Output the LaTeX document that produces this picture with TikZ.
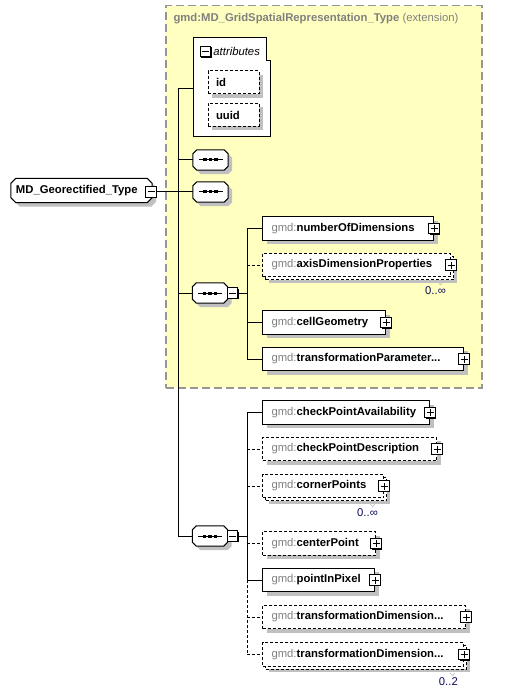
\documentclass[tikz,border=0pt]{standalone}
\usepackage{fontspec}
\setmainfont{Liberation Sans}
\usetikzlibrary{shadows, positioning}
\definecolor{extyellow}{RGB}{255,255,192}
\definecolor{extborder}{RGB}{150,150,150}
\definecolor{shgray}{RGB}{192,192,192}
\definecolor{pregray}{RGB}{128,128,128}
\definecolor{occblue}{RGB}{10,10,90}
\newcommand{\gmdpre}{{\mdseries\color{pregray}gmd:}}
% Umriss mit abgeschraegten Ecken um einen Knoten
\newcommand{\octpath}[2]{([xshift=#2]#1.north west) -- ([xshift=-#2]#1.north east) -- ([yshift=-#2]#1.north east) -- ([yshift=#2]#1.south east) -- ([xshift=-#2]#1.south east) -- ([xshift=#2]#1.south west) -- ([yshift=#2]#1.south west) -- ([yshift=-#2]#1.north west) -- cycle}
\pgfdeclarelayer{background}
\pgfsetlayers{background,main}

\begin{document}
\begin{tikzpicture}[x=1pt, y=-1pt,
    font=\fontsize{11.3}{13.5}\selectfont\bfseries,
    shadowed/.style={drop shadow={shadow xshift=4pt, shadow yshift=-4pt, fill=shgray, opacity=1}},
    conn/.style={draw, line width=1pt},
    optconn/.style={conn, dash pattern=on 3pt off 2pt},
    extbox/.style={rectangle, draw=extborder, fill=extyellow, line width=1.5pt, dash pattern=on 8pt off 4pt, minimum width=316pt, minimum height=382pt},
    attrbox/.style={rectangle, draw, fill=white, line width=1pt, minimum width=77pt, minimum height=99pt},
    attrelem/.style={rectangle, draw, fill=white, line width=1pt, dash pattern=on 3pt off 2pt, minimum height=23pt, text width=35pt, inner xsep=8pt, align=left, shadowed},
    elem/.style={rectangle, draw, fill=white, line width=1pt, anchor=west, minimum height=23.5pt, inner xsep=9pt, inner ysep=2pt, align=left, shadowed},
    optelem/.style={elem, dash pattern=on 3pt off 2pt},
    multielem/.style={rectangle, draw, fill=white, line width=1pt, anchor=west, minimum height=23.5pt, inner xsep=9pt, inner ysep=2pt, align=left, dash pattern=on 3pt off 2pt,
        drop shadow={shadow xshift=6pt, shadow yshift=-6pt, fill=shgray, opacity=1},
        general shadow={shadow xshift=3pt, shadow yshift=-3pt, draw=black, fill=white, line width=1pt, dash pattern=on 3pt off 2pt}},
    occ/.style={font=\fontsize{11.3}{13.5}\selectfont\mdseries, text=occblue, inner sep=0pt, anchor=east},
    occmark/.style={draw=white!55!gray, line width=0.7pt},
    pmbox/.style={rectangle, draw, fill=white, line width=1pt, minimum size=10.5pt, inner sep=0pt, drop shadow={shadow xshift=1pt, shadow yshift=-1pt, fill=black, opacity=1}},
    plusbox/.style={pmbox, path picture={
        \draw[line width=1pt] ([xshift=-3.5pt]path picture bounding box.center) -- ([xshift=3.5pt]path picture bounding box.center)
            ([yshift=-3.5pt]path picture bounding box.center) -- ([yshift=3.5pt]path picture bounding box.center);}},
    minusbox/.style={pmbox, path picture={
        \draw[line width=1pt] ([xshift=-3.5pt]path picture bounding box.center) -- ([xshift=3.5pt]path picture bounding box.center);}},
    seqbox/.style={rectangle, minimum width=35pt, minimum height=20pt, inner sep=0pt},
    mainbox/.style={rectangle, minimum width=141pt, minimum height=24pt, inner xsep=5pt, inner ysep=2pt, text width=131pt, align=left},
    octshadow/.style={fill=shgray, transform canvas={shift={(4pt,-4pt)}}},
    octline/.style={draw, fill=white, line width=1pt}
    ]
    \useasboundingbox (0,0) rectangle (506,692);

    % --- EXTENSION (GELB) ---
    \begin{pgfonlayer}{background}
    \node[extbox] (ext) at (323.75,196.75) {};
    \end{pgfonlayer}
    \node[anchor=west, text=pregray] (title) at (170,19) {gmd:MD\_GridSpatialRepresentation\_Type \mdseries(extension)};

    % --- ATTRIBUTE ---
    \node[attrbox] (attr) at (231.5,87.5) {};
    \fill[extyellow] ([shift={(-4pt,0.6pt)}]attr.north east) rectangle ([shift={(0.6pt,-23pt)}]attr.north east);
    \draw[line width=1pt] ([xshift=-4pt]attr.north east) -- ([shift={(-4pt,-23pt)}]attr.north east) -- ([yshift=-23pt]attr.north east);
    \node[minusbox] (attrM) at (205.5,51.5) {};
    \node[right=1pt of attrM, inner sep=1pt, font=\fontsize{11.3}{13.5}\selectfont\mdseries\itshape] (attrLabel) {attributes};
    \node[attrelem] (idAttr) at (233.5,82.5) {id};
    \node[attrelem] (uuidAttr) at (233.5,115) {uuid};

    % --- HAUPTTYP ---
    \node[mainbox] (main) at (81.5,190.5) {MD\_Georectified\_Type};

    % --- SEQUENZEN ---
    \node[seqbox] (seqA) at (210.5,160) {};
    \node[seqbox] (seqB) at (210.5,192) {};
    \node[seqbox] (seqC) at (210,293) {};
    \node[seqbox] (seqD) at (210,536) {};

    \begin{pgfonlayer}{background}
    \fill[octshadow] \octpath{main}{5pt};
    \path[octline] \octpath{main}{5pt};
    \foreach \s in {seqA,seqB,seqC,seqD} {
        \fill[octshadow] \octpath{\s}{4pt};
        \path[octline] \octpath{\s}{4pt};
    }
    \end{pgfonlayer}
    \foreach \s in {seqA,seqB,seqC,seqD} {
        \draw[line width=1pt] ([xshift=-12pt]\s.center) -- ([xshift=12pt]\s.center);
        \foreach \dx in {-5.5,0,5.5}
            \fill ([xshift=\dx pt]\s.center) +(-1.6,-1.5) rectangle +(1.6,1.5);
    }
    \node[minusbox] (mainM) at (151,192) {};
    \node[minusbox] (seqCm) at (232.5,293) {};
    \node[minusbox] (seqDm) at (232.5,536) {};

    % --- ELEMENTE (EXTENSION) ---
    \node[elem, text width=153pt] (numDim) at (262,228.5) {\gmdpre numberOfDimensions};
    \node[multielem, text width=170pt] (axisDim) at (262,265) {\gmdpre axisDimensionProperties};
    \node[elem, text width=105pt] (cellGeo) at (262,322.5) {\gmdpre cellGeometry};
    \node[elem, text width=183pt] (transPar) at (262,359) {\gmdpre transformationParameter...};
    \node[plusbox] (numDimP) at (numDim.east) {};
    \node[plusbox] (axisDimP) at (axisDim.east) {};
    \node[plusbox] (cellGeoP) at (cellGeo.east) {};
    \node[plusbox] (transParP) at (transPar.east) {};
    \node[occ] (axisOcc) at (446,291) {0..∞};

    % --- ELEMENTE (GEORECTIFIED) ---
    \node[elem, text width=149pt] (chkAvail) at (262,412.5) {\gmdpre checkPointAvailability};
    \node[optelem, text width=156pt] (chkDesc) at (262,449) {\gmdpre checkPointDescription};
    \node[multielem, text width=103pt] (corner) at (262,486) {\gmdpre cornerPoints};
    \node[optelem, text width=95pt] (center) at (262,543.5) {\gmdpre centerPoint};
    \node[elem, text width=94pt] (pixel) at (262,580) {\gmdpre pointInPixel};
    \node[optelem, text width=185pt] (transDimA) at (262,617) {\gmdpre transformationDimension...};
    \node[multielem, text width=183pt] (transDimB) at (262,654.5) {\gmdpre transformationDimension...};
    \node[plusbox] (chkAvailP) at (chkAvail.east) {};
    \node[plusbox] (chkDescP) at (chkDesc.east) {};
    \node[plusbox] (cornerP) at (corner.east) {};
    \node[plusbox] (centerP) at (center.east) {};
    \node[plusbox] (pixelP) at (pixel.east) {};
    \node[plusbox] (transDimAP) at (transDimA.east) {};
    \node[plusbox] (transDimBP) at (transDimB.east) {};
    \node[occ] (cornerOcc) at (378,513) {0..∞};
    \node[occ] (transDimOcc) at (458,682) {0..2};
    \foreach \o in {axisOcc,cornerOcc,transDimOcc}
        \draw[occmark] ([shift={(-8pt,5pt)}]\o.north east) -- ([shift={(-5.5pt,2pt)}]\o.north east) -- ([shift={(-3pt,5pt)}]\o.north east);

    % --- VERBINDUNGEN ---
    \coordinate (trunk) at (178,89);
    \draw[conn] (attr.west |- trunk) -- (trunk) -- (trunk |- seqD.west) -- (seqD.west);
    \draw[conn] (trunk |- seqA.west) -- (seqA.west);
    \draw[conn] (mainM.east) -- (seqB.west);
    \draw[conn] (trunk |- seqC.west) -- (seqC.west);

    \coordinate (busA) at (247,293);
    \draw[conn] (seqCm.east) -- (busA);
    \draw[conn] (busA |- numDim.west) -- (busA |- transPar.west);
    \draw[conn] (busA |- numDim.west) -- (numDim.west);
    \draw[optconn] (busA |- axisDim.west) -- (axisDim.west);
    \draw[conn] (busA |- cellGeo.west) -- (cellGeo.west);
    \draw[conn] (busA |- transPar.west) -- (transPar.west);

    \coordinate (busB) at (247,536);
    \draw[conn] (seqDm.east) -- (busB);
    \draw[conn] (busB |- chkAvail.west) -- (busB |- pixel.west);
    \draw[optconn] (busB |- pixel.west) -- (busB |- transDimB.west);
    \draw[conn] (busB |- chkAvail.west) -- (chkAvail.west);
    \draw[optconn] (busB |- chkDesc.west) -- (chkDesc.west);
    \draw[optconn] (busB |- corner.west) -- (corner.west);
    \draw[optconn] (busB |- center.west) -- (center.west);
    \draw[conn] (busB |- pixel.west) -- (pixel.west);
    \draw[optconn] (busB |- transDimA.west) -- (transDimA.west);
    \draw[optconn] (busB |- transDimB.west) -- (transDimB.west);

\end{tikzpicture}
\end{document}
